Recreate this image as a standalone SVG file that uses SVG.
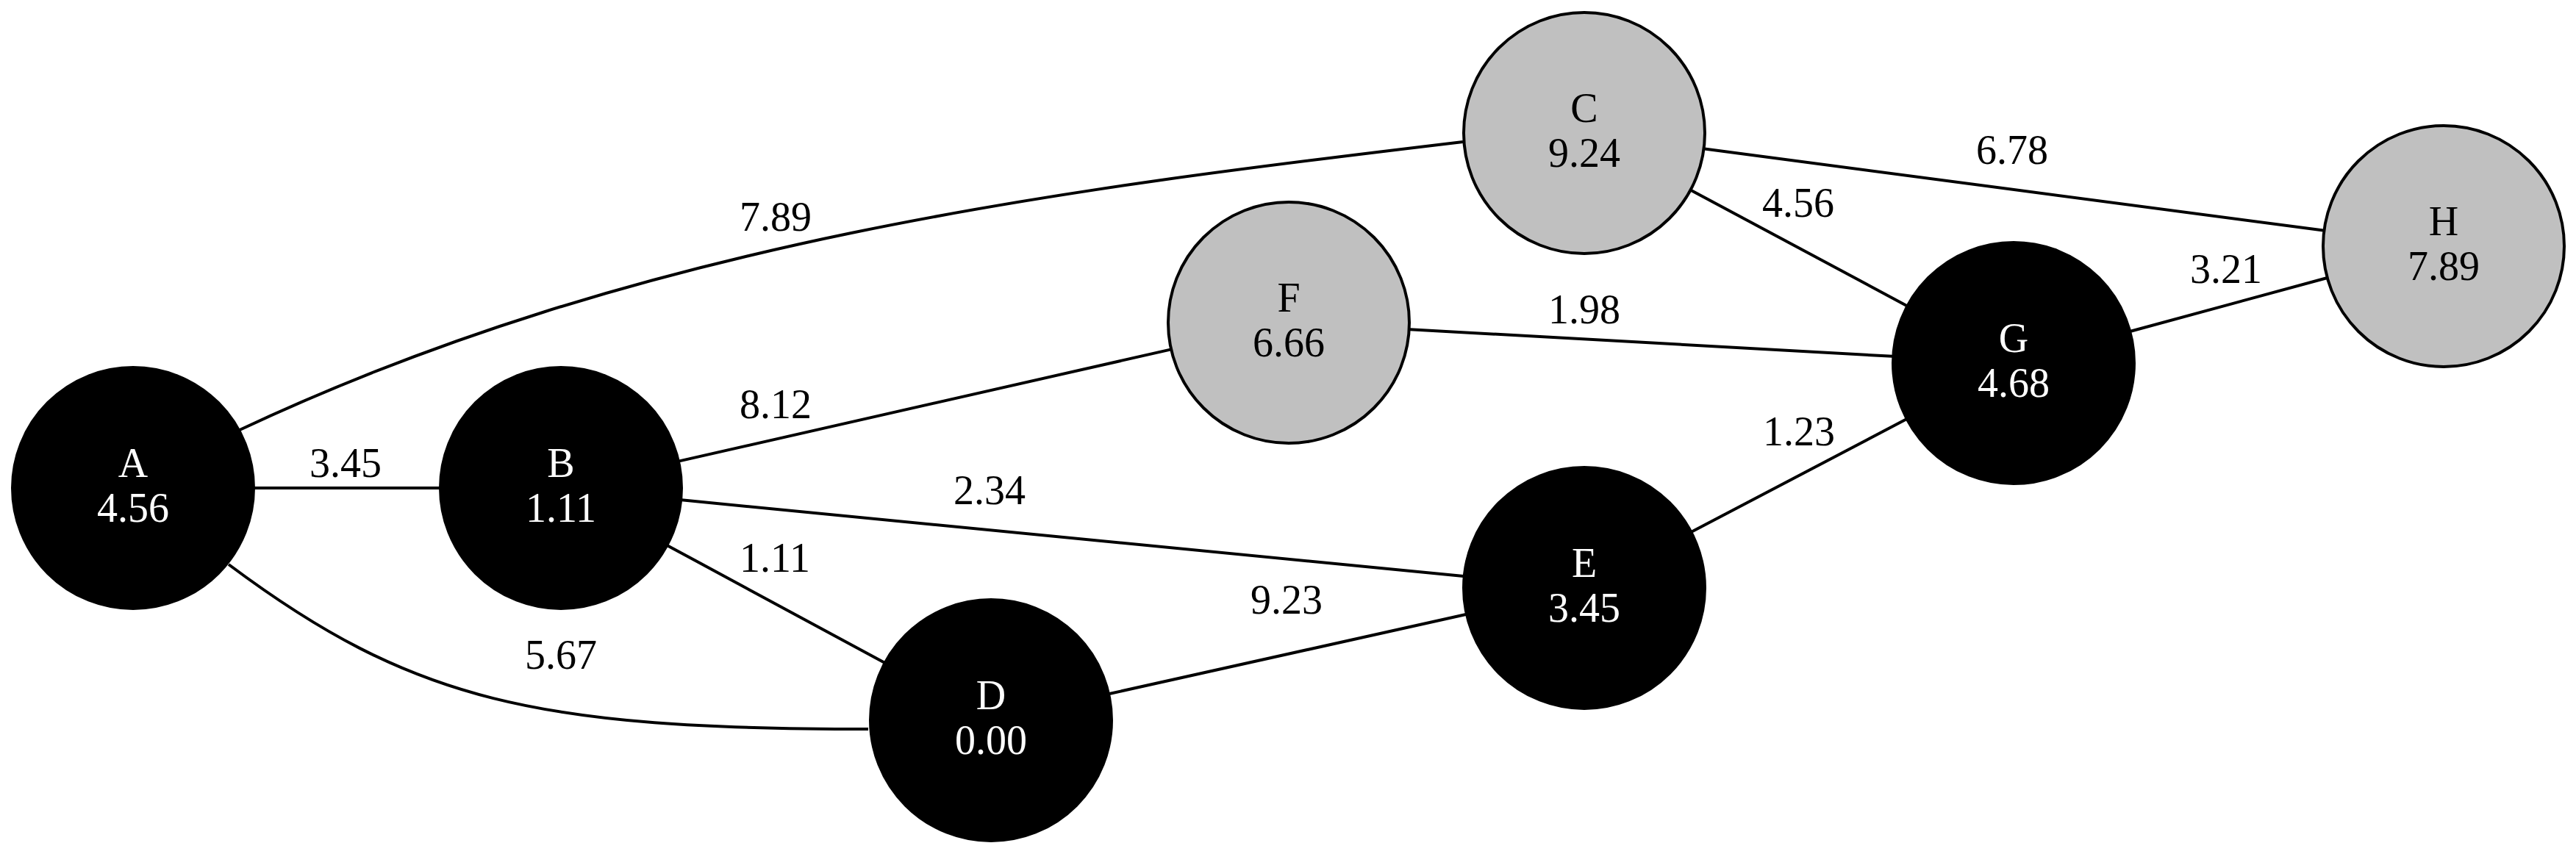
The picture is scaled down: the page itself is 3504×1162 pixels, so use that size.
<svg xmlns="http://www.w3.org/2000/svg" width="3504" height="1162" viewBox="0 0 3504 1162">
<style>
  text { font-family: "Liberation Serif", "Times New Roman", serif; font-size: 56px; text-anchor: middle; }
  .edge { fill: none; stroke: #000; stroke-width: 4; }
  .dark circle { fill: #000; stroke: #000; stroke-width: 4; }
  .dark text { fill: #fff; }
  .light circle { fill: #c0c0c0; stroke: #000; stroke-width: 4; }
  .light text { fill: #000; }
  .elabel { fill: #000; }
</style>
<rect width="3504" height="1162" fill="#fff"/>
<g id="edges">
  <path class="edge" d="M346,664 L598,664"/>
  <path class="edge" d="M326,585 C873,328 1443,258 1990,193"/>
  <path class="edge" d="M311,768 C561,955 731,992 1181,992"/>
  <path class="edge" d="M924,627.4 L1592,475.6"/>
  <path class="edge" d="M927.2,680.3 L1990.8,784"/>
  <path class="edge" d="M908.2,742.4 L1202.8,901.6"/>
  <path class="edge" d="M1509,944 L1994,836"/>
  <path class="edge" d="M1917.8,448.2 L2574.2,484.8"/>
  <path class="edge" d="M2300.4,258.9 L2593.6,416"/>
  <path class="edge" d="M2318.6,202.5 L3160.4,313.5"/>
  <path class="edge" d="M2898.2,450.7 L3164.8,378.3"/>
  <path class="edge" d="M2301.2,723.4 L2592.8,570.6"/>
  <text class="elabel" x="470" y="649">3.45</text>
  <text class="elabel" x="1055" y="314">7.89</text>
  <text class="elabel" x="1055" y="569">8.12</text>
  <text class="elabel" x="1346" y="686">2.34</text>
  <text class="elabel" x="1054" y="778">1.11</text>
  <text class="elabel" x="1750" y="835">9.23</text>
  <text class="elabel" x="763" y="910">5.67</text>
  <text class="elabel" x="2155" y="440">1.98</text>
  <text class="elabel" x="2446" y="295">4.56</text>
  <text class="elabel" x="2737" y="223">6.78</text>
  <text class="elabel" x="3028" y="385">3.21</text>
  <text class="elabel" x="2447" y="606">1.23</text>
</g>
<g id="node-A" class="dark">
  <circle cx="181" cy="664" r="164"/>
  <text x="181" y="649">A</text>
  <text x="181" y="710">4.56</text>
</g>
<g id="node-B" class="dark">
  <circle cx="763" cy="664" r="164"/>
  <text x="763" y="649">B</text>
  <text x="763" y="710">1.11</text>
</g>
<g id="node-C" class="light">
  <circle cx="2155" cy="181" r="164"/>
  <text x="2155" y="166">C</text>
  <text x="2155" y="227">9.24</text>
</g>
<g id="node-D" class="dark">
  <circle cx="1348" cy="980" r="164"/>
  <text x="1348" y="965">D</text>
  <text x="1348" y="1026">0.00</text>
</g>
<g id="node-E" class="dark">
  <circle cx="2155" cy="800" r="164"/>
  <text x="2155" y="785">E</text>
  <text x="2155" y="846">3.45</text>
</g>
<g id="node-F" class="light">
  <circle cx="1753" cy="439" r="164"/>
  <text x="1753" y="424">F</text>
  <text x="1753" y="485">6.66</text>
</g>
<g id="node-G" class="dark">
  <circle cx="2739" cy="494" r="164"/>
  <text x="2739" y="479">G</text>
  <text x="2739" y="540">4.68</text>
</g>
<g id="node-H" class="light">
  <circle cx="3324" cy="335" r="164"/>
  <text x="3324" y="320">H</text>
  <text x="3324" y="381">7.89</text>
</g>
</svg>
